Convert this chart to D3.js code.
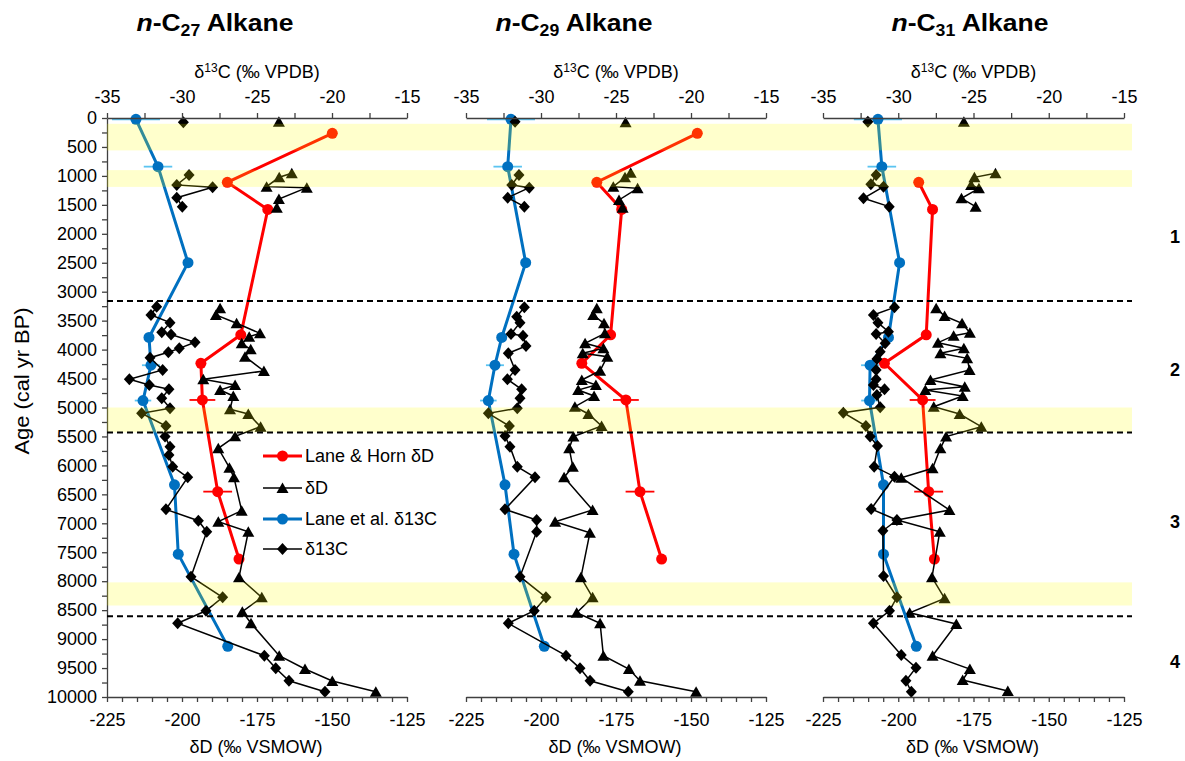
<!DOCTYPE html>
<html><head><meta charset="utf-8">
<script src="https://cdn.jsdelivr.net/npm/d3@7"></script>
<style>body{margin:0;background:#fff} text{font-family:"Liberation Sans",Arial,sans-serif;fill:#000}</style>
</head><body><svg id="c" width="1185" height="761"></svg>
<script>
// ---------- DATA ----------
const panelNames = ["27","29","31"];
const ageTicks = d3.range(0, 10001, 500);
const d13cTicks = [-35,-30,-25,-20,-15];
const dDTicks = [-225,-200,-175,-150,-125];
const zoneLabels = ["1","2","3","4"];
const zoneAges = [2050, 4350, 6980, 9400];
const bandStart = [100, 900, 5000, 8020];
const bandEnd   = [560, 1190, 5430, 8420];
const boundaryAges = [3160, 5430, 8606];

// Lane & Horn dD (shared ages)
const laneHornAge = [265, 1110, 1580, 3745, 4237, 4870, 6453, 7617];
const laneHorn27 = [-149.9, -184.9, -171.4, -180.4, -193.7, -193.2, -188.1, -181.0];
const laneHorn29 = [-147.9, -181.4, -173.1, -176.8, -186.4, -171.7, -167.0, -159.8];
const laneHorn31 = [null, -193.2, -188.6, -190.7, -204.6, -191.9, -189.9, -188.0];
const laneHornErr = [0, 0, 0, 0, 0, 4.3, 4.8, 0];

// Lane et al. d13C (shared ages)
const laneAge = [22, 840, 2499, 3790, 4270, 4880, 6335, 7533, 9125];
const lane27 = [-33.07, -31.6, -29.6, -32.2, -32.07, -32.6, -30.5, -30.25, -26.95];
const lane29 = [-32.0, -32.22, -31.02, -32.62, -33.07, -33.51, -32.4, -31.8, -29.78];
const lane31 = [-31.35, -31.09, -29.91, -30.65, -31.87, -31.91, -30.98, -30.98, -28.8];
const laneErr = [1.6, 0.95, 0, 0, 0.6, 0.55, 0, 0, 0];

// dD (triangles); null = break in line
const dDAge27 = [64,null,955,1024,1186,1203,1399,1549,null,3287,3402,3546,3719,3777,3892,3995,4122,4370,4513,4611,4698,4801,5031,5112,5331,5498,5705,6039,6206,6782,6972,7145,7933,8279,8527,8727,9287,9517,9724,9909];
const dD27 = [-167.7,null,-163.4,-167.6,-171.8,-158.4,-167.7,-168.4,null,-187.3,-188.7,-181.8,-174,-177.6,-180.1,-177.1,-179,-172.7,-192.9,-182.3,-187.3,-182.9,-184,-177.9,-173.8,-182.3,-187.9,-184.2,-182.7,-180.1,-187.9,-177.9,-181,-173.4,-179.9,-177,-167.6,-159,-149.9,-135.4];
const dDAge29 = [74,null,945,1024,1186,1215,1416,1549,null,3287,3402,3546,3719,3892,3978,4064,4122,4364,4525,4611,4698,4801,4986,5112,5320,5503,5705,6022,6206,6770,6972,7162,7933,8279,8544,8727,9287,9517,9719,9909];
const dD29 = [-171.8,null,-170.1,-172,-175.9,-167.8,-174,-172.8,null,-181.4,-182.6,-179,-178.7,-185.3,-179.2,-186.1,-177.9,-180.3,-186.4,-181.7,-187.6,-182.3,-188.7,-184.2,-179.8,-189.2,-190.6,-189.4,-192.3,-182.8,-195.3,-183.7,-186.7,-182.8,-188.1,-180.3,-179.2,-170.7,-167,-148.3];
const dDAge31 = [64,null,955,1024,1157,1215,1387,1531,null,3287,3420,3546,3708,3759,3880,3978,4064,4151,4352,4525,4640,4698,4801,4986,5112,5331,5503,5705,6050,6212,6770,6943,7145,7933,8296,8544,8739,9287,9517,9706,9896];
const dD31 = [-178.2,null,-167.7,-174.7,-175.8,-173.2,-179,-174.3,null,-187.4,-184.6,-178.8,-176.2,-181.6,-186.8,-178.2,-186,-177.1,-176.3,-189.3,-177.9,-191,-178.6,-188.2,-179.6,-172.4,-184.1,-186,-188.6,-199,-183,-200.4,-186.2,-188.8,-184.6,-196.2,-180.7,-188.6,-176.2,-178.6,-163.6];

// d13C (diamonds)
const cAge27 = [74,null,984,1157,1197,1376,1531,null,3259,3402,3535,3700,3740,3874,3978,4047,4140,4352,4513,4611,4686,4841,5014,5100,5320,5503,5676,5820,6022,6206,6759,6955,7145,7922,8279,8510,8727,9287,9505,9719,9909];
const c27 = [-29.91,null,-29.53,-30.35,-27.96,-30.35,-29.98,null,-31.69,-32.07,-30.8,-31.35,-30.73,-29.13,-30.18,-30.91,-32.13,-31.29,-33.51,-32.18,-30.87,-31.35,-30.8,-32.69,-31.07,-31.13,-30.8,-30.87,-30.62,-29.62,-31.07,-28.91,-28.35,-29.4,-27.29,-28.4,-30.29,-24.51,-23.75,-22.87,-20.47];
const cAge29 = [64,null,984,1157,1203,1376,1531,null,3270,3431,3535,3731,3760,3938,4064,4352,4513,4686,4841,5014,5100,5320,5492,5676,6022,6206,6759,6943,7145,7922,8279,8510,8727,9287,9505,9719,9909];
const c29 = [-31.73,null,-31.47,-31.95,-30.78,-32.22,-31.11,null,-31.11,-31.62,-31.4,-32,-31.2,-31,-32.18,-31.73,-32.24,-31.29,-31.4,-31.58,-33.51,-32.11,-32.4,-32.07,-31.58,-30.4,-32.4,-30.29,-30.29,-31.4,-29.67,-30.45,-32.18,-28.33,-27.4,-26.73,-24.18];
const cAge31 = [64,null,984,1145,1186,1387,1531,null,3270,3402,3535,3691,3731,3892,4035,4162,4352,4513,4611,4686,4784,4996,5089,5320,5503,5665,6022,6195,6753,6943,7129,7910,8279,8510,8727,9275,9494,9719,9909];
const c31 = [-32.02,null,-31.47,-31.82,-30.98,-32.31,-30.6,null,-30.25,-31.65,-31.35,-30.65,-31.47,-30.87,-31.2,-31.42,-31.47,-31.47,-31.65,-30.91,-31.42,-31.2,-33.65,-32.15,-31.87,-31.38,-31.6,-30.25,-31.8,-30.09,-31.02,-30.98,-30.09,-30.58,-31.65,-29.8,-28.82,-29.49,-29.13];

const legendLabels = ["Lane & Horn δD", "δD", "Lane et al. δ13C", "δ13C"];

// ---------- STYLE / LAYOUT ----------
const RED = "#FF0000", BLUE = "#0070C0", BLACK = "#000";
const FS = 18;
const panelRange = [[107,407],[466,766],[823,1124]];
const titleX = [215, 574, 970];
const svg = d3.select("#c");
const y = d3.scaleLinear().domain([0, 10000]).range([118, 697]);

const panels = [
  {lh: laneHorn27, la: lane27, tA: dDAge27, tV: dD27, cA: cAge27, cV: c27},
  {lh: laneHorn29, la: lane29, tA: dDAge29, tV: dD29, cA: cAge29, cV: c29},
  {lh: laneHorn31, la: lane31, tA: dDAge31, tV: dD31, cA: cAge31, cV: c31}
];

const triPath = "M0,-5.5L6,5L-6,5Z";
const diaPath = "M0,-6L5.5,0L0,6L-5.5,0Z";

function zip(ages, vals, errs){ return ages.map((a,i)=>({a, v: vals[i], e: errs ? errs[i] : 0})); }

const plotG = svg.append("g");
const axisG = svg.append("g");

function styleAxis(g){
  g.select(".domain").attr("stroke", "#404040").attr("stroke-width", 1.3);
  g.selectAll(".tick line").attr("stroke", "#404040").attr("stroke-width", 1.3);
  g.selectAll("text").attr("font-size", FS).attr("font-family", '"Liberation Sans",Arial,sans-serif').attr("fill", "#000");
}

panels.forEach((p, i) => {
  const [x0, x1] = panelRange[i];
  const xC = d3.scaleLinear().domain([-35, -15]).range([x0, x1]);
  const xD = d3.scaleLinear().domain([-225, -125]).range([x0, x1]);

  const top = axisG.append("g").attr("transform", `translate(0,${y(0)})`)
    .call(d3.axisTop(xC).tickValues(d3.range(-35, -14.9, 2.5)).tickSize(5).tickSizeOuter(0).tickPadding(10)
      .tickFormat(d => d13cTicks.includes(d) ? String(d) : ""));
  const bot = axisG.append("g").attr("transform", `translate(0,${y(10000)})`)
    .call(d3.axisBottom(xD).tickValues(d3.range(-225, -124.9, 5)).tickSize(5).tickSizeOuter(0).tickPadding(11)
      .tickFormat(d => dDTicks.includes(d) ? String(d) : ""));
  styleAxis(top); styleAxis(bot);

  // titles
  const t = svg.append("text").attr("x", titleX[i]).attr("y", 31).attr("text-anchor", "middle")
    .attr("font-size", 24).attr("font-weight", "bold")
    .attr("textLength", 157).attr("lengthAdjust", "spacingAndGlyphs");
  t.append("tspan").attr("font-style", "italic").text("n");
  t.append("tspan").text("-C");
  t.append("tspan").attr("font-size", 16).attr("dy", 5).text(panelNames[i]);
  t.append("tspan").attr("dy", -5).text(" Alkane");

  const cx = (x0 + x1) / 2;
  const tt = svg.append("text").attr("x", cx).attr("y", 78).attr("text-anchor", "middle").attr("font-size", FS);
  tt.append("tspan").text("δ");
  tt.append("tspan").attr("font-size", 12).attr("dy", -6).text("13");
  tt.append("tspan").attr("dy", 6).text("C (‰ VPDB)");
  svg.append("text").attr("x", cx - 1).attr("y", 753).attr("text-anchor", "middle").attr("font-size", FS)
    .text("δD (‰ VSMOW)");

  const g = plotG.append("g");
  // Lane & Horn dD (red)
  const lhData = zip(laneHornAge, p.lh, laneHornErr).filter(d => d.v != null);
  g.selectAll(".lherr").data(lhData.filter(d => d.e > 0)).join("line")
    .attr("x1", d => xD(d.v - d.e)).attr("x2", d => xD(d.v + d.e)).attr("y1", d => y(d.a)).attr("y2", d => y(d.a))
    .attr("stroke", RED).attr("stroke-width", 1.8);
  g.append("path").datum(lhData).attr("fill", "none").attr("stroke", RED).attr("stroke-width", 3)
    .attr("d", d3.line().x(d => xD(d.v)).y(d => y(d.a)));
  g.selectAll(".lhpt").data(lhData).join("circle").attr("cx", d => xD(d.v)).attr("cy", d => y(d.a)).attr("r", 5.5).attr("fill", RED);

  // dD triangles
  const tData = zip(p.tA, p.tV);
  g.append("path").datum(tData).attr("fill", "none").attr("stroke", BLACK).attr("stroke-width", 1.5)
    .attr("d", d3.line().defined(d => d.v != null).x(d => xD(d.v)).y(d => y(d.a)));
  g.selectAll(".tri").data(tData.filter(d => d.v != null)).join("path").attr("d", triPath)
    .attr("transform", d => `translate(${xD(d.v)},${y(d.a)})`).attr("fill", BLACK);

  // Lane et al. d13C (blue)
  const laData = zip(laneAge, p.la, laneErr);
  g.selectAll(".laerr").data(laData.filter(d => d.e > 0)).join("line")
    .attr("x1", d => xC(d.v - d.e)).attr("x2", d => xC(d.v + d.e)).attr("y1", d => y(d.a)).attr("y2", d => y(d.a))
    .attr("stroke", "#5BC4F1").attr("stroke-width", 1.8);
  g.append("path").datum(laData).attr("fill", "none").attr("stroke", BLUE).attr("stroke-width", 3)
    .attr("d", d3.line().x(d => xC(d.v)).y(d => y(d.a)));
  g.selectAll(".lapt").data(laData).join("circle").attr("cx", d => xC(d.v)).attr("cy", d => y(d.a)).attr("r", 5.5).attr("fill", BLUE);

  // d13C diamonds
  const cData = zip(p.cA, p.cV);
  g.append("path").datum(cData).attr("fill", "none").attr("stroke", BLACK).attr("stroke-width", 1.5)
    .attr("d", d3.line().defined(d => d.v != null).x(d => xC(d.v)).y(d => y(d.a)));
  g.selectAll(".dia").data(cData.filter(d => d.v != null)).join("path").attr("d", diaPath)
    .attr("transform", d => `translate(${xC(d.v)},${y(d.a)})`).attr("fill", BLACK);
});

// y axis (left of first panel)
const yAx = axisG.append("g").attr("transform", `translate(${panelRange[0][0]},0)`)
  .call(d3.axisLeft(y).tickValues(d3.range(0, 10001, 250)).tickSize(5).tickSizeOuter(0).tickPadding(5)
    .tickFormat(d => ageTicks.includes(d) ? String(d) : ""));
styleAxis(yAx);

svg.append("text").attr("transform", `translate(29,381) rotate(-90)`).attr("text-anchor", "middle")
  .attr("font-size", 20).attr("textLength", 147).attr("lengthAdjust", "spacingAndGlyphs").text("Age (cal yr BP)");

// yellow bands overlay (semi-transparent, on top of data)
const bx0 = panelRange[0][0], bx1 = 1132;
svg.append("g").selectAll("rect").data(bandStart.map((s, i) => ({s, e: bandEnd[i]}))).join("rect")
  .attr("x", bx0).attr("width", bx1 - bx0).attr("y", d => y(d.s)).attr("height", d => y(d.e) - y(d.s))
  .attr("fill", "#FFFF00").attr("fill-opacity", 0.2);

// boundary dashed lines
svg.append("g").selectAll("line").data(boundaryAges).join("line")
  .attr("x1", bx0).attr("x2", bx1).attr("y1", d => y(d)).attr("y2", d => y(d))
  .attr("stroke", "#000").attr("stroke-width", 2).attr("stroke-dasharray", "6,4");

// zone labels
svg.append("g").selectAll("text").data(zoneLabels).join("text")
  .attr("x", 1175).attr("y", (d, i) => y(zoneAges[i]) + 6).attr("text-anchor", "middle")
  .attr("font-size", 18).attr("font-weight", "bold").text(d => d);

// legend
const leg = svg.append("g");
const legY = [456, 488, 519, 549];
const legColor = [RED, BLACK, BLUE, BLACK];
const legW = [3, 1.5, 3, 1.5];
legendLabels.forEach((lab, i) => {
  leg.append("line").attr("x1", 263).attr("x2", 302).attr("y1", legY[i]).attr("y2", legY[i])
    .attr("stroke", legColor[i]).attr("stroke-width", legW[i]);
  if (i === 0 || i === 2) leg.append("circle").attr("cx", 282.5).attr("cy", legY[i]).attr("r", 5.5).attr("fill", legColor[i]);
  else leg.append("path").attr("d", i === 1 ? triPath : diaPath).attr("transform", `translate(282.5,${legY[i]})`).attr("fill", BLACK);
  leg.append("text").attr("x", 305).attr("y", legY[i] + 6).attr("font-size", FS).text(lab);
});
</script></body></html>
